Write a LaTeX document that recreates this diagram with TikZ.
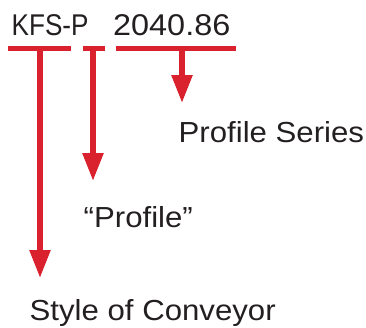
\documentclass[tikz,border=0pt]{standalone}
\usepackage{fontspec}
\setmainfont{Liberation Sans}
\newfontfamily\lblfont{Liberation Sans}[FakeStretch=1.075]
\newfontfamily\kfsfont{Liberation Sans}[FakeStretch=0.87]
\newfontfamily\numfont{Liberation Sans}[FakeStretch=1.08]
\usetikzlibrary{arrows.meta}
\definecolor{kred}{HTML}{D9222E}
\definecolor{ktext}{HTML}{231F20}
\begin{document}
\begin{tikzpicture}[x=1pt,y=-1pt,
  lbl/.style={anchor=base west,inner sep=0pt,text=ktext,font=\lblfont\fontsize{29}{34}\selectfont},
  toplbl/.style={anchor=base west,inner sep=0pt,text=ktext},
  bar/.style={draw=kred,line width=5pt},
  stem/.style={draw=kred,line width=5.5pt,-{Triangle[width=20pt,length=28pt]}}]
\useasboundingbox (0,0) rectangle (366,327);
\node[toplbl,font=\kfsfont\fontsize{30}{34}\selectfont] (kfs) at (11.5,35) {KFS-P};
\node[toplbl,font=\numfont\fontsize{30}{34}\selectfont] (num) at (113,35) {2040.86};
\coordinate (b1l) at (8,48); \coordinate (b1r) at (71,48);
\coordinate (b2l) at (83,48); \coordinate (b2r) at (105,48);
\coordinate (b3l) at (116,48); \coordinate (b3r) at (236,48);
\draw[bar] (b1l) -- (b1r);
\draw[bar] (b2l) -- (b2r);
\draw[bar] (b3l) -- (b3r);
\coordinate (s1) at (40,48); \coordinate (e1) at (40,278);
\coordinate (s2) at (93,48); \coordinate (e2) at (93,181);
\coordinate (s3) at (182,48); \coordinate (e3) at (182,103);
\draw[stem] (s1) -- (e1);
\draw[stem] (s2) -- (e2);
\draw[stem] (s3) -- (e3);
\node[lbl] (ps) at (178.5,142.3) {Profile Series};
\node[lbl] (pr) at (83.5,227) {“Profile”};
\node[lbl] (sc) at (29.5,320.5) {Style of Conveyor};
\end{tikzpicture}
\end{document}
